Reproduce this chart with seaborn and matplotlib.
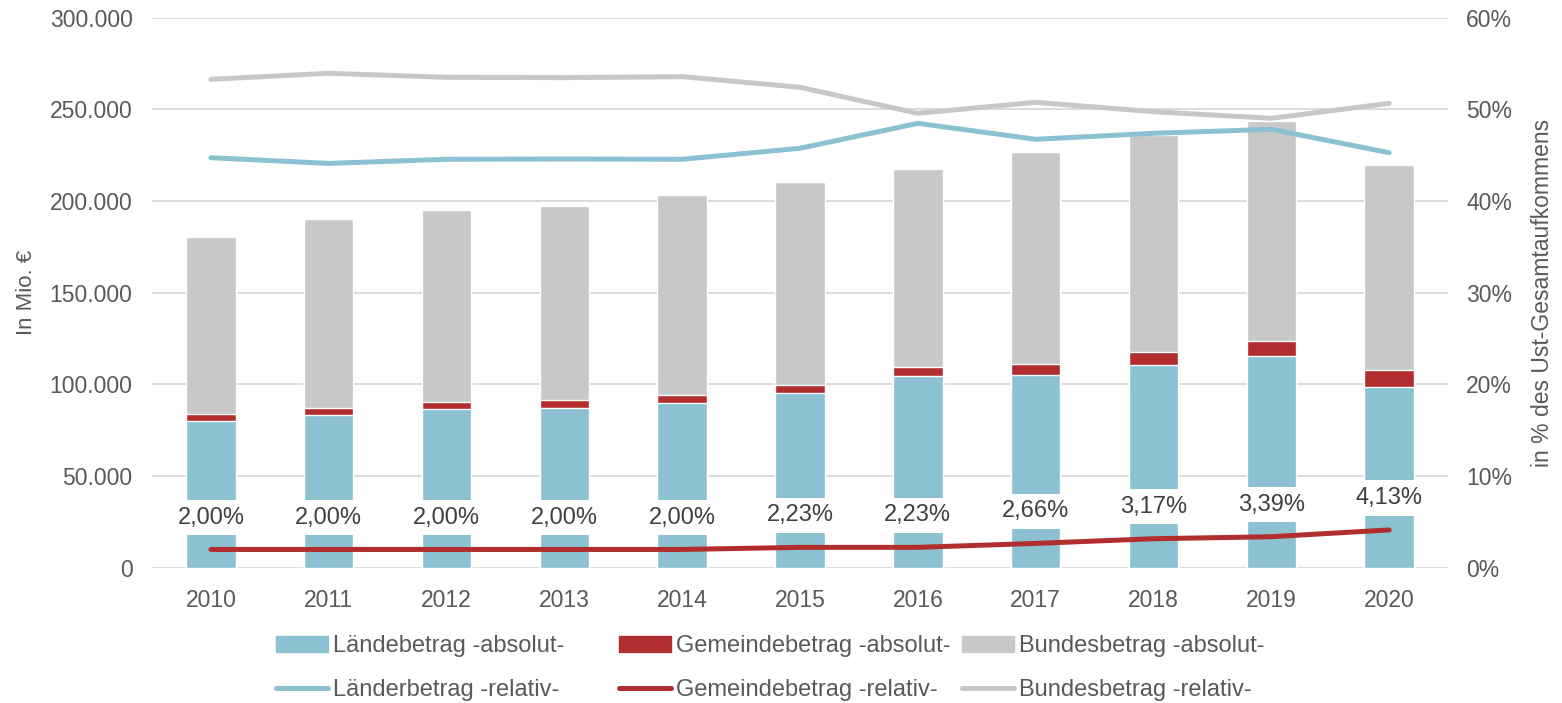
import numpy as np
import matplotlib
matplotlib.use("Agg")
import matplotlib.pyplot as plt
import seaborn as sns
from matplotlib.patches import Patch
from matplotlib.lines import Line2D
from matplotlib.ticker import FuncFormatter

# Werte (Mio. € bzw. % des Ust-Gesamtaufkommens)
years = ["2010", "2011", "2012", "2013", "2014", "2015", "2016", "2017", "2018", "2019", "2020"]
laender_abs = [80050, 83320, 86420, 87310, 90030, 95150, 104420, 105130, 110420, 115490, 98760]
gemeinde_abs = [3600, 3800, 3890, 3940, 4060, 4680, 4840, 6020, 7440, 8250, 9060]
bund_abs = [96900, 103250, 104790, 106040, 109360, 110540, 108210, 115590, 118140, 119900, 111990]
laender_rel = [44.72, 44.10, 44.55, 44.58, 44.55, 45.75, 48.47, 46.73, 47.38, 47.82, 45.27]
gemeinde_rel = [2.00, 2.00, 2.00, 2.00, 2.00, 2.23, 2.23, 2.66, 3.17, 3.39, 4.13]
bund_rel = [53.27, 53.93, 53.49, 53.45, 53.56, 52.40, 49.56, 50.76, 49.74, 49.02, 50.65]

blue = "#8BC1D1"
red = "#B22E2E"
grey = "#C8C8C8"
text_col = "#595959"

sns.set_theme(style="white")
plt.rcParams["font.family"] = ["Liberation Sans", "DejaVu Sans"]
plt.rcParams["text.color"] = text_col
plt.rcParams["axes.labelcolor"] = text_col
plt.rcParams["xtick.color"] = text_col
plt.rcParams["ytick.color"] = text_col

fig = plt.figure(figsize=(15.62, 7.03), dpi=100)
ax = fig.add_axes([152 / 1562, 1 - 567.8 / 703, (1448 - 152) / 1562, (567.8 - 17.6) / 703])

# gestapelte Balken: Summe zuerst, dann Teilsummen darüber
lg = np.array(laender_abs) + np.array(gemeinde_abs)
total = lg + np.array(bund_abs)
sns.barplot(x=years, y=total, color=grey, width=0.42, saturation=1, ax=ax)
sns.barplot(x=years, y=lg, color=red, width=0.42, saturation=1, ax=ax)
sns.barplot(x=years, y=laender_abs, color=blue, width=0.42, saturation=1, ax=ax)

ax.set_ylim(0, 300000)
ax.set_yticks(np.arange(0, 300001, 50000))
ax.yaxis.set_major_formatter(FuncFormatter(lambda v, p: f"{int(v):,}".replace(",", ".")))
ax.grid(axis="y", color="#D9D9D9", linewidth=1.3)
ax.set_axisbelow(True)
ax.tick_params(axis="y", length=0, labelsize=16.5, pad=14)
ax.tick_params(axis="x", length=0, labelsize=16.5, pad=15)
ax.set_ylabel("In Mio. €", fontsize=16, labelpad=9)
ax.set_xlabel("")
for s in ax.spines.values():
    s.set_visible(False)

ax2 = ax.twinx()
pos = np.arange(len(years))
for vals, col in [(bund_rel, grey), (laender_rel, blue), (gemeinde_rel, red)]:
    sns.lineplot(x=pos, y=vals, color=col, linewidth=3.6, ax=ax2,
                 solid_capstyle="round", legend=False)
ax2.set_ylim(0, 60)
ax2.set_yticks(np.arange(0, 61, 10))
ax2.yaxis.set_major_formatter(FuncFormatter(lambda v, p: f"{v:.0f}%"))
ax2.tick_params(axis="y", length=0, labelsize=16.5, pad=13)
ax2.set_ylabel("in % des Ust-Gesamtaufkommens", fontsize=16.5, labelpad=14)
ax2.grid(False)
for s in ax2.spines.values():
    s.set_visible(False)
ax.set_xlim(-0.5, len(years) - 0.5)

for i, v in enumerate(gemeinde_rel):
    ax2.annotate(f"{v:.2f}%".replace(".", ","), xy=(i, v), xytext=(0, 23),
                 textcoords="offset points", ha="center", va="center",
                 fontsize=17, color="#404040",
                 bbox=dict(boxstyle="square,pad=0.28", fc="white", ec="none"))

# Legende in drei festen Spalten
cols = [
    (276, [Patch(color=blue), Line2D([], [], color=blue, lw=3.6, solid_capstyle="round")],
     ["Ländebetrag -absolut-", "Länderbetrag -relativ-"]),
    (619, [Patch(color=red), Line2D([], [], color=red, lw=3.6, solid_capstyle="round")],
     ["Gemeindebetrag -absolut-", "Gemeindebetrag -relativ-"]),
    (962, [Patch(color=grey), Line2D([], [], color=grey, lw=3.6, solid_capstyle="round")],
     ["Bundesbetrag -absolut-", "Bundesbetrag -relativ-"]),
]
for x0, handles, labels in cols:
    fig.legend(handles, labels, loc="upper left", bbox_to_anchor=(x0 / 1562, 1 - 635 / 703),
               frameon=False, fontsize=17, handlelength=2.2, handleheight=0.65,
               handletextpad=0.2, labelspacing=0.95, borderaxespad=0, borderpad=0)

fig.savefig("out.png", dpi=100)
